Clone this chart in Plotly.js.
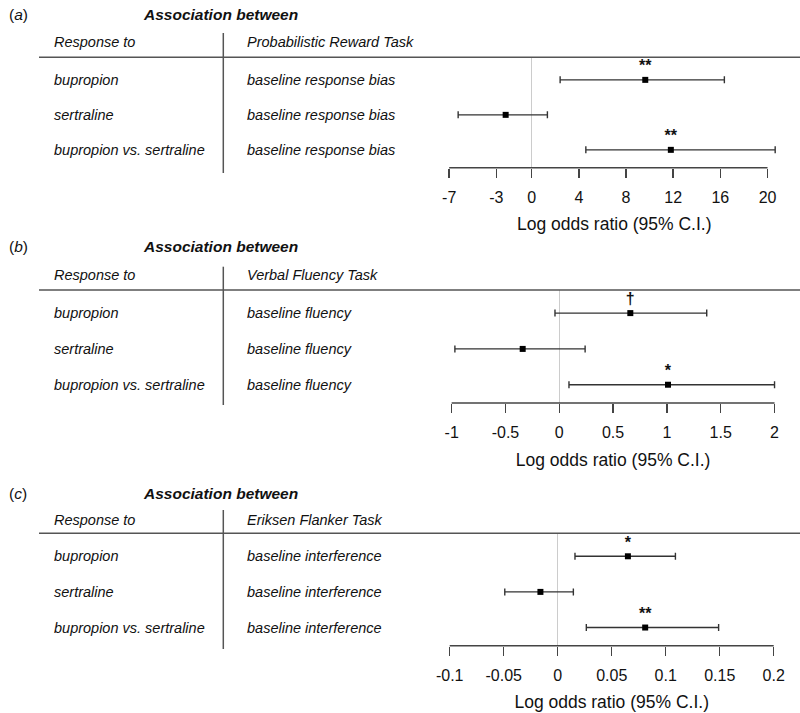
<!DOCTYPE html>
<html>
<head>
<meta charset="utf-8">
<script src="https://cdn.plot.ly/plotly-3.0.1.min.js"></script>
<style>
  html, body { margin: 0; padding: 0; background: #fff; }
  #chart { width: 800px; height: 713px; }
</style>
</head>
<body>
<div id="chart"></div>
<script>
// rows shared by all three panels
const responseTo = ['bupropion', 'sertraline', 'bupropion vs. sertraline'];

// (a) Probabilistic Reward Task
const taskA = 'Probabilistic Reward Task';
const measureA = 'baseline response bias';
const estA = [9.63, -2.21, 11.8];
const lowA = [2.41, -6.24, 4.59];
const highA = [16.34, 1.33, 20.65];
const sigA = ['**', '', '**'];
const ticksA = [-7, -3, 0, 4, 8, 12, 16, 20];
const tickTextA = ['-7', '-3', '0', '4', '8', '12', '16', '20'];

// (b) Verbal Fluency Task
const taskB = 'Verbal Fluency Task';
const measureB = 'baseline fluency';
const estB = [0.66, -0.34, 1.01];
const lowB = [-0.04, -0.97, 0.09];
const highB = [1.37, 0.24, 2.0];
const sigB = ['\u2020', '', '*'];
const ticksB = [-1, -0.5, 0, 0.5, 1, 1.5, 2];
const tickTextB = ['-1', '-0.5', '0', '0.5', '1', '1.5', '2'];

// (c) Eriksen Flanker Task
const taskC = 'Eriksen Flanker Task';
const measureC = 'baseline interference';
const estC = [0.065, -0.016, 0.081];
const lowC = [0.016, -0.049, 0.0265];
const highC = [0.109, 0.0145, 0.149];
const sigC = ['*', '', '**'];
const ticksC = [-0.1, -0.05, 0, 0.05, 0.1, 0.15, 0.2];
const tickTextC = ['-0.1', '-0.05', '0', '0.05', '0.1', '0.15', '0.2'];

const W = 800, H = 713;
const fx = p => p / W;          // pixel -> paper x
const fy = p => 1 - p / H;      // pixel -> paper y

const FONT = 'Liberation Sans, Arial, sans-serif';
const INK = '#111';
const RULE = '#555';

// layout geometry for each panel (pixels)
const panels = [
    { tag: 'a', task: taskA, measure: measureA, est: estA, low: lowA, high: highA, sig: sigA,
      ticks: ticksA, tickText: tickTextA, range: [-8, 22], xPix: [437.4, 791.1],
      top: 57.3, bottom: 167.7, titleY: 15, headY: 41.7, divTop: 33, divBottom: 173 },
    { tag: 'b', task: taskB, measure: measureB, est: estB, low: lowB, high: highB, sig: sigB,
      ticks: ticksB, tickText: tickTextB, range: [-1.1, 2.1], xPix: [440.9, 785.3],
      top: 290, bottom: 403, titleY: 246.7, headY: 275, divTop: 266.7, divBottom: 405 },
    { tag: 'c', task: taskC, measure: measureC, est: estC, low: lowC, high: highC, sig: sigC,
      ticks: ticksC, tickText: tickTextC, range: [-0.11, 0.21], xPix: [438.9, 784.5],
      top: 533.3, bottom: 645.7, titleY: 493.3, headY: 520, divTop: 510, divBottom: 649 }
];

const rowIdx = responseTo.map((_, i) => i);
const traces = [];
const annotations = [];
const shapes = [];
const layout = {
    width: W,
    height: H,
    margin: { t: 0, b: 0, l: 0, r: 0 },
    paper_bgcolor: '#fff',
    plot_bgcolor: 'rgba(0,0,0,0)',
    showlegend: false,
    font: { family: FONT, color: INK }
};

panels.forEach((p, k) => {
    const n = k === 0 ? '' : String(k + 1);
    const xa = 'x' + n, ya = 'y' + n;

    traces.push({
        type: 'scatter',
        mode: 'markers+text',
        x: p.est,
        y: rowIdx,
        xaxis: xa,
        yaxis: ya,
        text: p.sig.map(s => s ? '<b>' + s + '</b>' : ''),
        textposition: 'top center',
        textfont: { size: 16, color: INK, family: FONT },
        cliponaxis: false,
        marker: { symbol: 'square', size: 6, color: '#000' },
        error_x: {
            type: 'data',
            symmetric: false,
            array: p.high.map((h, i) => h - p.est[i]),
            arrayminus: p.low.map((l, i) => p.est[i] - l),
            color: '#333',
            thickness: 1.4,
            width: 3.5
        },
        hoverinfo: 'skip'
    });

    layout['xaxis' + n] = {
        domain: [fx(p.xPix[0]), fx(p.xPix[1])],
        anchor: ya,
        range: p.range,
        tickmode: 'array',
        tickvals: p.ticks,
        ticktext: p.tickText,
        ticks: 'outside',
        ticklen: 9,
        tickwidth: 1.5,
        tickcolor: '#444',
        ticklabelstandoff: 6,
        tickfont: { size: 16, color: INK, family: FONT },
        showgrid: false,
        showline: false,
        zeroline: true,
        zerolinecolor: '#cccccc',
        zerolinewidth: 1.2,
        fixedrange: true,
        title: { text: 'Log odds ratio (95% C.I.)', font: { size: 17.5, color: INK, family: FONT } }
    };
    layout['yaxis' + n] = {
        domain: [fy(p.bottom), fy(p.top)],
        anchor: xa,
        range: [2.51, -0.645],
        visible: false,
        fixedrange: true
    };

    // axis line spanning first to last tick
    shapes.push({
        type: 'line', xref: xa, yref: ya + ' domain',
        x0: p.ticks[0], x1: p.ticks[p.ticks.length - 1], y0: 0, y1: 0,
        line: { color: '#444', width: 1.5 }
    });
    // header rule and column divider
    shapes.push({
        type: 'line', xref: 'paper', yref: 'paper',
        x0: fx(39), x1: 1, y0: fy(p.top), y1: fy(p.top),
        line: { color: RULE, width: 1.5 }
    });
    shapes.push({
        type: 'line', xref: 'paper', yref: 'paper',
        x0: fx(223.3), x1: fx(223.3), y0: fy(p.divTop), y1: fy(p.divBottom),
        line: { color: RULE, width: 1.5 }
    });

    const txt = (text, x, y, size, anchor) => ({
        text: text, xref: 'paper', yref: 'paper', x: fx(x), y: fy(y),
        xanchor: anchor || 'left', yanchor: 'middle', showarrow: false,
        font: { size: size, color: INK, family: FONT }
    });

    annotations.push(txt('(<i>' + p.tag + '</i>)', 7, p.titleY, 15.5));
    annotations.push(txt('<b><i>Association between</i></b>', 220, p.titleY, 15.5, 'center'));
    annotations.push(txt('<i>Response to</i>', 51.5, p.headY, 14.5));
    annotations.push(txt('<i>' + p.task + '</i>', 245, p.headY, 14.5));

    responseTo.forEach((r, i) => {
        annotations.push({
            text: '<i>' + r + '</i>', xref: 'paper', yref: ya, x: fx(51.5), y: i,
            xanchor: 'left', yanchor: 'middle', showarrow: false,
            font: { size: 14.5, color: INK, family: FONT }
        });
        annotations.push({
            text: '<i>' + p.measure + '</i>', xref: 'paper', yref: ya, x: fx(245), y: i,
            xanchor: 'left', yanchor: 'middle', showarrow: false,
            font: { size: 14.5, color: INK, family: FONT }
        });
    });
});

layout.annotations = annotations;
layout.shapes = shapes;

Plotly.newPlot('chart', traces, layout, { staticPlot: true, responsive: false });
</script>
</body>
</html>
